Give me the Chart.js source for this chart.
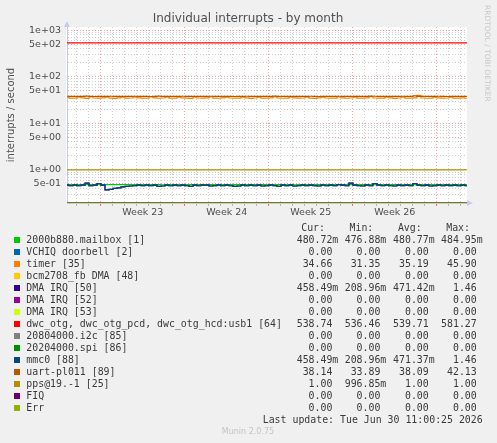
<!DOCTYPE html>
<html>
<head>
<meta charset="utf-8">
<script src="https://cdn.jsdelivr.net/npm/chart.js@4.4.1/dist/chart.umd.min.js"></script>
<style>
  html, body { margin: 0; padding: 0; background: #f0f0f0; }
  #wrap { position: relative; width: 497px; height: 443px; overflow: hidden; }
  #chart { position: absolute; left: 0; top: 0; }
  .lg { position: absolute; font: 9.9px "DejaVu Sans Mono", monospace; color: #3a3a3a; white-space: pre; line-height: 12px; height: 12px; }
  .sw { position: absolute; width: 6px; height: 6px; }
  .ver { position: absolute; left: 0; width: 496px; text-align: center; font: 8px "DejaVu Sans", sans-serif; color: #c4c4c4; }
</style>
</head>
<body>
<div id="wrap">
  <canvas id="chart" width="497" height="443"></canvas>
  <div id="legend"></div>
</div>
<script>
// Series names and munin colours
const seriesLabels = [
    '2000b880.mailbox [1]', 'VCHIQ doorbell [2]', 'timer [35]', 'bcm2708_fb DMA [48]',
    'DMA IRQ [50]', 'DMA IRQ [52]', 'DMA IRQ [53]', 'dwc_otg, dwc_otg_pcd, dwc_otg_hcd:usb1 [64]',
    '20804000.i2c [85]', '20204000.spi [86]', 'mmc0 [88]', 'uart-pl011 [89]', 'pps@19.-1 [25]', 'FIQ', 'Err'
];
const seriesColors = [
    '#00cc00', '#0066b3', '#ff8000', '#ffcc00', '#330099', '#990099', '#ccff00', '#ff0000',
    '#808080', '#008f00', '#00487d', '#b35a00', '#b38f00', '#6b006b', '#8fb300'
];

// Legend statistics
const curText = ['480.72m', '0.00', '34.66', '0.00', '458.49m', '0.00', '0.00', '538.74', '0.00', '0.00', '458.49m', '38.14', '1.00', '0.00', '0.00'];
const minText = ['476.88m', '0.00', '31.35', '0.00', '208.96m', '0.00', '0.00', '536.46', '0.00', '0.00', '208.96m', '33.89', '996.85m', '0.00', '0.00'];
const avgText = ['480.77m', '0.00', '35.19', '0.00', '471.42m', '0.00', '0.00', '539.71', '0.00', '0.00', '471.37m', '38.09', '1.00', '0.00', '0.00'];
const maxText = ['484.95m', '0.00', '45.90', '0.00', '1.46', '0.00', '0.00', '581.27', '0.00', '0.00', '1.46', '42.13', '1.00', '0.00', '0.00'];

// Week labels (Monday 00:00 = day 0, 7, 14 ...)
const weekLabels = ['Week 23', 'Week 24', 'Week 25', 'Week 26'];

// Samples every 8 hours, time in days from Mon Jun 1 00:00
const xStart = -2.82;
const xStep = 1 / 3;

const mailboxVals = [
    0.481, 0.480, 0.481, 0.482, 0.480, 0.481, 0.481, 0.479, 0.481, 0.482,
    0.480, 0.481, 0.480, 0.481, 0.482, 0.481, 0.480, 0.481, 0.481, 0.480,
    0.482, 0.481, 0.480, 0.481, 0.479, 0.481, 0.482, 0.480, 0.481, 0.481,
    0.480, 0.481, 0.482, 0.481, 0.480, 0.481, 0.481, 0.480, 0.482, 0.481,
    0.480, 0.481, 0.481, 0.482, 0.480, 0.481, 0.480, 0.481, 0.482, 0.481,
    0.481, 0.480, 0.481, 0.482, 0.481, 0.480, 0.481, 0.479, 0.481, 0.482,
    0.480, 0.481, 0.481, 0.480, 0.482, 0.481, 0.480, 0.481, 0.481, 0.480,
    0.481, 0.482, 0.480, 0.481, 0.481, 0.480, 0.482, 0.481, 0.480, 0.481,
    0.481, 0.480, 0.482, 0.481, 0.480, 0.481, 0.481, 0.482, 0.480, 0.481,
    0.480, 0.481, 0.481, 0.482, 0.480, 0.481, 0.480, 0.481, 0.481, 0.482,
    0.481
];
const timerVals = [
    36.5, 34.8, 35.0, 36.8, 35.2, 34.6, 36.9, 35.1, 34.9, 35.3,
    36.7, 35.0, 34.5, 35.2, 36.8, 34.9, 35.1, 36.6, 35.3, 34.8,
    35.0, 36.9, 35.2, 34.7, 35.1, 36.5, 35.0, 34.9, 36.8, 35.2,
    35.0, 34.6, 36.7, 35.1, 34.8, 35.3, 36.9, 35.0, 34.7, 35.2,
    36.6, 35.1, 34.9, 35.0, 36.8, 35.3, 34.6, 35.1, 36.7, 35.0,
    34.8, 35.2, 36.9, 35.1, 34.7, 35.0, 36.6, 35.2, 34.9, 35.1,
    36.8, 35.0, 34.6, 35.3, 36.7, 35.1, 34.8, 35.0, 36.9, 35.2,
    34.7, 35.1, 36.6, 35.0, 34.9, 35.2, 37.5, 35.1, 34.8, 35.0,
    36.8, 35.3, 34.6, 35.1, 36.7, 35.0, 34.9, 35.2, 39.8, 35.1,
    34.7, 35.0, 36.8, 35.2, 34.8, 35.1, 36.6, 35.0, 34.9, 35.2,
    34.66
];
const uartVals = [
    38.3, 38.0, 38.2, 37.9, 38.1, 38.4, 38.0, 37.8, 38.2, 38.1,
    38.0, 38.3, 37.9, 38.1, 38.2, 38.0, 37.9, 38.3, 38.1, 38.0,
    38.2, 37.8, 38.1, 38.4, 38.0, 38.1, 37.9, 38.2, 38.0, 38.3,
    38.1, 37.9, 38.0, 38.2, 38.1, 38.0, 38.3, 37.9, 38.1, 38.2,
    38.0, 38.1, 37.8, 38.2, 38.0, 38.3, 38.1, 37.9, 38.0, 38.2,
    38.1, 38.0, 38.4, 37.9, 38.1, 38.2, 38.0, 38.1, 37.9, 38.2,
    38.0, 38.3, 38.1, 37.8, 38.0, 38.2, 38.1, 38.0, 38.3, 37.9,
    38.1, 38.2, 38.0, 38.1, 37.9, 38.2, 38.6, 38.3, 38.1, 37.9,
    38.0, 38.2, 38.1, 38.0, 38.3, 37.9, 38.1, 39.0, 38.0, 38.1,
    37.9, 38.2, 38.0, 38.3, 38.1, 37.8, 38.0, 38.2, 38.1, 38.0,
    38.14
];
const mmc0Vals = [
    0.47, 0.46, 0.47, 0.46, 0.47, 0.52, 0.46, 0.47, 0.51, 0.47,
    0.37, 0.38, 0.40, 0.41, 0.43, 0.44, 0.45, 0.46, 0.47, 0.46,
    0.47, 0.46, 0.47, 0.44, 0.45, 0.47, 0.46, 0.47, 0.46, 0.47,
    0.46, 0.44, 0.47, 0.46, 0.47, 0.47, 0.45, 0.46, 0.47, 0.46,
    0.47, 0.46, 0.44, 0.45, 0.47, 0.46, 0.47, 0.46, 0.47, 0.45,
    0.46, 0.47, 0.46, 0.44, 0.47, 0.46, 0.47, 0.45, 0.46, 0.47,
    0.46, 0.47, 0.46, 0.45, 0.47, 0.46, 0.47, 0.46, 0.48, 0.47,
    0.46, 0.52, 0.47, 0.46, 0.45, 0.47, 0.46, 0.51, 0.47, 0.46,
    0.47, 0.46, 0.45, 0.47, 0.46, 0.47, 0.46, 0.51, 0.47, 0.46,
    0.47, 0.45, 0.46, 0.47, 0.46, 0.47, 0.46, 0.47, 0.46, 0.47,
    0.46
];
const dwcVals = [
    539.4, 539.1, 539.8, 538.9, 539.6, 540.2, 539.3, 538.8, 539.7, 539.5,
    539.0, 539.9, 539.2, 538.7, 539.6, 540.1, 539.4, 538.9, 539.8, 539.3,
    539.1, 539.7, 540.0, 539.2, 538.8, 539.5, 539.9, 539.3, 539.0, 539.6,
    540.3, 539.4, 538.9, 539.7, 539.2, 539.8, 539.1, 538.7, 539.5, 540.0,
    539.3, 539.6, 539.0, 539.9, 539.4, 538.8, 539.7, 539.2, 540.1, 539.5,
    539.1, 539.8, 539.3, 538.9, 539.6, 540.2, 539.4, 539.0, 539.7, 539.3,
    539.9, 539.1, 538.8, 539.5, 540.0, 539.2, 539.6, 539.0, 539.8, 539.4,
    538.9, 539.7, 539.3, 540.1, 539.5, 539.0, 539.8, 539.2, 538.7, 539.6,
    540.3, 539.4, 539.1, 539.7, 539.3, 538.9, 539.9, 539.5, 539.0, 539.6,
    540.0, 539.2, 538.8, 539.7, 539.4, 539.1, 539.8, 539.3, 538.9, 539.2,
    538.74
];
const ppsVals = [
    1.00, 1.00, 1.00, 1.00, 1.00, 1.00, 1.00, 1.00, 1.00, 1.00,
    1.00, 1.00, 1.00, 1.00, 1.00, 1.00, 1.00, 1.00, 1.00, 1.00,
    1.00, 1.00, 1.00, 1.00, 1.00, 1.00, 1.00, 1.00, 1.00, 1.00,
    1.00, 1.00, 1.00, 1.00, 1.00, 1.00, 1.00, 1.00, 1.00, 1.00,
    1.00, 1.00, 1.00, 1.00, 1.00, 0.997, 1.00, 1.00, 1.00, 1.00,
    1.00, 1.00, 1.00, 1.00, 1.00, 1.00, 1.00, 1.00, 1.00, 1.00,
    1.00, 1.00, 1.00, 1.00, 1.00, 1.00, 1.00, 1.00, 1.00, 1.00,
    1.00, 1.00, 1.00, 1.00, 1.00, 1.00, 1.00, 1.00, 1.00, 1.00,
    1.00, 1.00, 1.00, 1.00, 1.00, 1.00, 1.00, 1.00, 1.00, 1.00,
    1.00, 1.00, 1.00, 1.00, 1.00, 1.00, 1.00, 1.00, 1.00, 1.00,
    1.00
];
const zeroVals = [
    0, 0, 0, 0, 0, 0, 0, 0, 0, 0, 0, 0, 0, 0, 0, 0, 0, 0, 0, 0,
    0, 0, 0, 0, 0, 0, 0, 0, 0, 0, 0, 0, 0, 0, 0, 0, 0, 0, 0, 0,
    0, 0, 0, 0, 0, 0, 0, 0, 0, 0, 0, 0, 0, 0, 0, 0, 0, 0, 0, 0,
    0, 0, 0, 0, 0, 0, 0, 0, 0, 0, 0, 0, 0, 0, 0, 0, 0, 0, 0, 0,
    0, 0, 0, 0, 0, 0, 0, 0, 0, 0, 0, 0, 0, 0, 0, 0, 0, 0, 0, 0,
    0
];

const seriesValues = [
    mailboxVals, zeroVals, timerVals, zeroVals, mmc0Vals, zeroVals, zeroVals, dwcVals,
    zeroVals, zeroVals, mmc0Vals, uartVals, ppsVals, zeroVals, zeroVals
];

const yMin = 0.194;
const yMax = 1180;
const xMin = -2.82;
const xMax = 30.52;

const majorGrid = '#f2a6a6';
const minorGrid = '#cfcfcf';
const axisBlue = '#c6cbee';

function expLabel(value) {
    const e = Math.floor(Math.log10(value) + 1e-9);
    const m = Math.round(value / Math.pow(10, e));
    return { e, m };
}

// Background, titles, arrows
const muninDecor = {
    id: 'muninDecor',
    beforeDraw(chart) {
        const { ctx, chartArea } = chart;
        ctx.save();
        ctx.fillStyle = '#f0f0f0';
        ctx.fillRect(0, 0, chart.width, chart.height);
        ctx.fillStyle = '#ffffff';
        ctx.fillRect(chartArea.left - 1, chartArea.top, chartArea.right - chartArea.left + 1, chartArea.bottom - chartArea.top);
        ctx.restore();
    },
    afterDraw(chart) {
        const { ctx, chartArea } = chart;
        ctx.save();
        ctx.fillStyle = '#505050';
        ctx.font = '12px "DejaVu Sans"';
        ctx.textAlign = 'center';
        ctx.textBaseline = 'middle';
        ctx.fillText('Individual interrupts - by month', 248, 18.5);

        ctx.save();
        ctx.translate(11, 115);
        ctx.rotate(-Math.PI / 2);
        ctx.font = '10px "DejaVu Sans"';
        ctx.fillText('interrupts / second', 0, 0);
        ctx.restore();

        ctx.save();
        ctx.translate(487, 5);
        ctx.rotate(Math.PI / 2);
        ctx.font = '7.5px "DejaVu Sans"';
        ctx.fillStyle = '#c8c8c8';
        ctx.textAlign = 'left';
        ctx.fillText('RRDTOOL / TOBI OETIKER', 0, 0);
        ctx.restore();

        // axis arrows
        ctx.fillStyle = axisBlue;
        ctx.beginPath();
        ctx.moveTo(chartArea.left, chartArea.top - 6);
        ctx.lineTo(chartArea.left - 3, chartArea.top);
        ctx.lineTo(chartArea.left + 3, chartArea.top);
        ctx.closePath();
        ctx.fill();
        ctx.beginPath();
        ctx.moveTo(chartArea.right + 6, chartArea.bottom);
        ctx.lineTo(chartArea.right, chartArea.bottom - 3);
        ctx.lineTo(chartArea.right, chartArea.bottom + 3);
        ctx.closePath();
        ctx.fill();
        ctx.restore();
    }
};

// zero values cannot sit on a log axis: rrdtool pins them to the bottom edge
const datasets = seriesLabels.map((label, i) => ({
    label: label,
    data: seriesValues[i].map((v, j) => ({ x: xStart + j * xStep, y: v > 0 ? v : yMin })),
    borderColor: seriesColors[i],
    borderWidth: seriesValues[i] === zeroVals ? 1 : 1.2,
    pointRadius: 0,
    fill: false,
    stepped: 'middle',
    order: seriesLabels.length - i,
    clip: 0
}));

const chart = new Chart(document.getElementById('chart').getContext('2d'), {
    type: 'line',
    data: { datasets: datasets },
    plugins: [muninDecor],
    options: {
        responsive: false,
        animation: false,
        devicePixelRatio: 1,
        layout: { padding: { left: 0, top: 27, right: 30, bottom: 220 } },
        plugins: {
            legend: { display: false },
            title: { display: false },
            tooltip: { enabled: false }
        },
        scales: {
            x: {
                type: 'linear',
                min: xMin,
                max: xMax,
                afterFit(scale) { scale.height = 20; },
                afterBuildTicks(scale) {
                    const ticks = [];
                    for (let h = Math.ceil(scale.min * 2); h <= Math.floor(scale.max * 2); h++) {
                        ticks.push({ value: h / 2 });
                    }
                    scale.ticks = ticks;
                },
                ticks: {
                    autoSkip: false,
                    maxRotation: 0,
                    padding: 1,
                    color: '#4d4d4d',
                    font: { family: 'DejaVu Sans', size: 9.5 },
                    callback(value) {
                        const k = (value - 3.5) / 7;
                        return Number.isInteger(k) && k >= 0 && k < weekLabels.length ? weekLabels[k] : '';
                    }
                },
                grid: {
                    color(ctx) {
                        const v = ctx.tick.value;
                        if (v % 7 === 0) return majorGrid;
                        if (Number.isInteger(v)) return minorGrid;
                        return 'rgba(0,0,0,0)';
                    },
                    tickColor(ctx) {
                        const v = ctx.tick.value;
                        if (v % 7 === 0) return '#f07070';
                        if (Number.isInteger(v)) return '#b8b8b8';
                        return 'rgba(0,0,0,0)';
                    },
                    tickLength: 3,
                    lineWidth: 1
                },
                border: { color: '#c8c8c8', width: 1, dash: [1, 2] }
            },
            y: {
                type: 'logarithmic',
                min: yMin,
                max: yMax,
                afterFit(scale) { scale.width = 67; },
                afterBuildTicks(scale) {
                    const ticks = [];
                    for (let e = -1; e <= 3; e++) {
                        for (let m = 1; m <= 9; m++) {
                            const v = Number((m * Math.pow(10, e)).toPrecision(2));
                            if (v >= scale.min && v <= scale.max) ticks.push({ value: v });
                        }
                    }
                    scale.ticks = ticks;
                },
                ticks: {
                    autoSkip: false,
                    padding: 6,
                    color: '#4d4d4d',
                    font: { family: 'DejaVu Sans', size: 9.5 },
                    callback(value) {
                        const { e, m } = expLabel(value);
                        if (m !== 1 && m !== 5) return '';
                        return m + 'e' + (e < 0 ? '-' : '+') + String(Math.abs(e)).padStart(2, '0');
                    }
                },
                grid: {
                    color(ctx) {
                        const { m } = expLabel(ctx.tick.value);
                        return (m === 1 || m === 5) ? majorGrid : minorGrid;
                    },
                    drawTicks: false,
                    lineWidth: 1
                },
                border: { color: axisBlue, width: 1, dash: [1, 2] }
            }
        }
    }
});

// Munin style legend below the graph
const legendEl = document.getElementById('legend');
const colRight = [338.3, 386.3, 434.7, 482.7];
const headRight = [325, 373.3, 421.7, 470];
const headers = ['Cur:', 'Min:', 'Avg:', 'Max:'];

function addText(text, top, left, right) {
    const el = document.createElement('div');
    el.className = 'lg';
    el.textContent = text;
    el.style.top = top + 'px';
    if (left !== null) el.style.left = left + 'px';
    if (right !== null) el.style.right = (497 - right) + 'px';
    legendEl.appendChild(el);
}

headers.forEach((h, c) => addText(h, 221.7, null, headRight[c]));

seriesLabels.forEach((label, i) => {
    const center = 239.7 + i * 12;
    const sw = document.createElement('div');
    sw.className = 'sw';
    sw.style.left = '14px';
    sw.style.top = (center - 3) + 'px';
    sw.style.background = seriesColors[i];
    legendEl.appendChild(sw);
    addText(label, center - 6, 26.3, null);
    [curText, minText, avgText, maxText].forEach((col, c) => {
        const v = col[i];
        addText(v.endsWith('m') ? v : v + ' ', center - 6, null, colRight[c]);
    });
});

addText('Last update: Tue Jun 30 11:00:25 2026', 413.7, null, 482.7);

const ver = document.createElement('div');
ver.className = 'ver';
ver.textContent = 'Munin 2.0.75';
ver.style.top = '427px';
legendEl.appendChild(ver);
</script>
</body>
</html>
